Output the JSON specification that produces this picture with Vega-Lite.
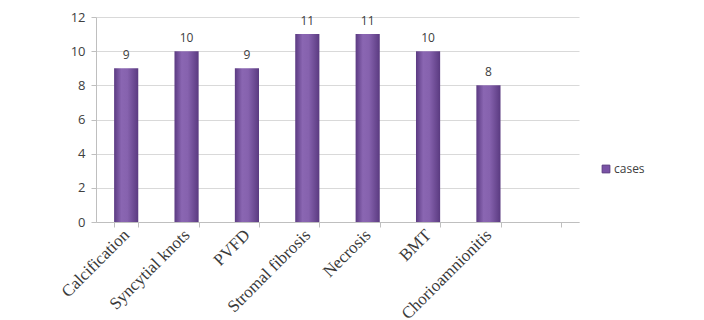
{
  "$schema": "https://vega.github.io/schema/vega-lite/v6.json",
  "autosize": "none",
  "width": 483,
  "height": 205,
  "padding": {"left": 96, "top": 17, "right": 125, "bottom": 98},
  "background": "white",
  "data": {"values": [
    {"category": "Calcification", "cases": 9, "series": "cases"},
    {"category": "Syncytial knots", "cases": 10, "series": "cases"},
    {"category": "PVFD", "cases": 9, "series": "cases"},
    {"category": "Stromal fibrosis", "cases": 11, "series": "cases"},
    {"category": "Necrosis", "cases": 11, "series": "cases"},
    {"category": "BMT", "cases": 10, "series": "cases"},
    {"category": "Chorioamnionitis", "cases": 8, "series": "cases"}
  ]},
  "encoding": {
    "x": {
      "field": "category", "type": "nominal", "sort": null,
      "scale": {"domain": ["Calcification", "Syncytial knots", "PVFD", "Stromal fibrosis", "Necrosis", "BMT", "Chorioamnionitis", " "], "paddingInner": 0.6, "paddingOuter": 0.3},
      "axis": {
        "title": null, "labelAngle": -45, "labelAlign": "right", "labelBaseline": "middle",
        "labelFont": "Liberation Serif", "labelFontSize": 17, "labelColor": "#3a3a3a",
        "tickBand": "extent", "ticks": true, "tickSize": 5, "tickColor": "#bfbfbf",
        "domainColor": "#bfbfbf", "grid": false, "labelPadding": 5
      }
    },
    "y": {
      "field": "cases", "type": "quantitative",
      "scale": {"domain": [0, 12]},
      "axis": {
        "title": null, "values": [0, 2, 4, 6, 8, 10, 12], "grid": true, "gridColor": "#d9d9d9",
        "domainColor": "#bfbfbf", "tickColor": "#bfbfbf", "tickSize": 5,
        "labelFont": "Open Sans", "labelFontSize": 13, "labelColor": "#404040", "labelPadding": 6
      }
    }
  },
  "layer": [
    {
      "mark": {"type": "point", "opacity": 0, "filled": true},
      "encoding": {
        "fill": {"field": "series", "type": "nominal",
          "scale": {"range": ["#7a52a6"]},
          "legend": {
            "title": null, "orient": "none", "legendX": 504, "legendY": 146,
            "symbolType": "square", "symbolSize": 60, "symbolOpacity": 1, "symbolStrokeColor": "#5a3a80", "symbolStrokeWidth": 1,
            "labelFont": "Open Sans", "labelFontSize": 12, "labelColor": "#404040", "labelOffset": 2
          }
        }
      }
    },
    {
      "mark": {
        "type": "bar",
        "color": {
          "gradient": "linear", "x1": 0, "x2": 1, "y1": 0, "y2": 0,
          "stops": [
            {"offset": 0, "color": "#5b3a82"},
            {"offset": 0.3, "color": "#8a66b2"},
            {"offset": 0.55, "color": "#8662ae"},
            {"offset": 1, "color": "#5a3a80"}
          ]
        }
      }
    },
    {
      "mark": {"type": "text", "dy": -13, "font": "Open Sans", "fontSize": 12, "color": "#404040"},
      "encoding": {"text": {"field": "cases", "type": "quantitative"}}
    }
  ],
  "config": {"view": {"stroke": null}}
}
